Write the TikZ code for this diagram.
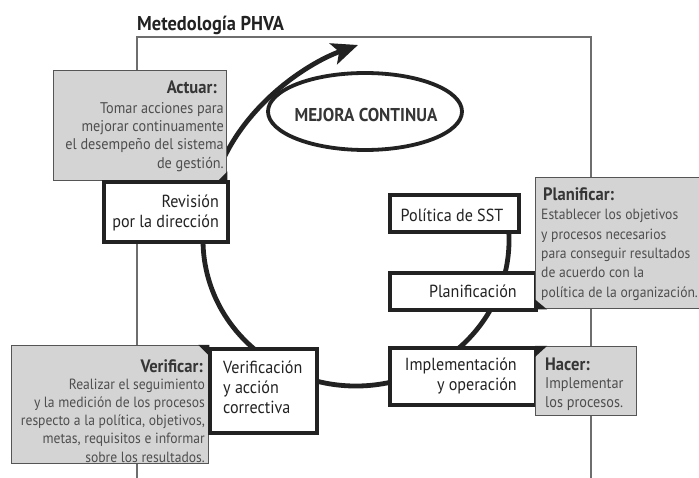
\documentclass[tikz,border=0pt]{standalone}
\usepackage{fontspec}
\setmainfont{PT Sans}[FakeStretch=0.92]
\usetikzlibrary{arrows.meta,shapes.geometric}
\definecolor{ink}{HTML}{222222}
\definecolor{gfill}{HTML}{D4D4D4}
\definecolor{gline}{HTML}{555555}
\definecolor{headc}{HTML}{363636}
\definecolor{bodyc}{HTML}{4E4E4E}
\definecolor{framec}{HTML}{6E6E6E}
\newcommand\tp{\rule{0pt}{1em}}
\begin{document}
\begin{tikzpicture}[x=1pt,y=-1pt,
  wbox/.style={draw=ink, line width=3.6pt, fill=white, inner sep=0pt, anchor=north west},
  gbox/.style={draw=gline, line width=1.4pt, fill=gfill, inner sep=0pt, anchor=north west},
  ghead/.style={font=\fontsize{18}{20}\selectfont\bfseries, text=headc, inner sep=0pt},
  gbody/.style={font=\fontsize{15.5}{18.4}\selectfont, text=bodyc, inner sep=0pt},
  wtext/.style={font=\fontsize{17.5}{20}\selectfont, text=ink, inner sep=0pt},
  ttext/.style={font=\fontsize{20}{24}\selectfont\bfseries, text=ink, inner sep=0pt},
  mtext/.style={font=\fontsize{18.6}{20}\selectfont\bfseries, text=headc, inner sep=0pt},
  frame/.style={draw=framec, line width=1.3pt},
  cyc/.style={draw=ink, line width=4.8pt},
  mejell/.style={draw=ink, line width=3.8pt, ellipse, minimum width=194pt, minimum height=77pt, inner sep=0pt},
  cornertri/.style={fill=ink}
]
\useasboundingbox[fill=white] (0,0) rectangle (699,478);
% frame
\coordinate (fTL) at (137,37);
\coordinate (fTR) at (591,37);
\coordinate (fBL) at (137,478);
\coordinate (fBR) at (591,478);
\draw[frame] (fBL) -- (fTL) -- (fTR) -- (fBR);
% title
\node[ttext, anchor=north west] (ttl) at (137,10) {\tp Metedología PHVA};
% mejora continua
\node[mejell] (mejE) at (365,111.5) {};
\node[mtext, anchor=north] (mejT) at (366,103) {\tp MEJORA CONTINUA};
% cycle
\coordinate (cc) at (356,240);
\coordinate (tipA) at (358,45);
\draw[cyc, -{Stealth[length=26pt, width=22pt, inset=6pt]}] (cc) ++(-10:153 and 146)
  arc[start angle=-10, end angle=200, x radius=153, y radius=146]
  .. controls (232,112) and (305,64) .. (tipA);
% boxes
\node[gbox, minimum width=173pt, minimum height=110pt] (actB) at (53,70) {};
\node[wbox, minimum width=124pt, minimum height=60pt] (revB) at (102,180) {};
\node[gbox, minimum width=197pt, minimum height=118pt] (verB) at (11,345) {};
\node[wbox, minimum width=107pt, minimum height=84pt] (vacB) at (208,347) {};
\node[wbox, minimum width=129pt, minimum height=37pt] (polB) at (388,193) {};
\node[wbox, minimum width=146pt, minimum height=37pt] (plaB) at (388,271) {};
\node[wbox, minimum width=146pt, minimum height=57pt] (impB) at (388,346) {};
\node[gbox, minimum width=170pt, minimum height=131pt] (pnfB) at (535,177) {};
\node[gbox, minimum width=101pt, minimum height=69pt] (hacB) at (535,346) {};
% corner triangles
\fill[cornertri] (actB.south east) -- ++(-10,0) -- ++(10,-10) -- cycle;
\fill[cornertri] (verB.north east) -- ++(-11,0) -- ++(11,11) -- cycle;
\fill[cornertri] (pnfB.south west) -- ++(0,-10) -- ++(12,10) -- cycle;
\fill[cornertri] (hacB.north west) -- ++(12,0) -- ++(-12,11) -- cycle;
% texts
\node[ghead, anchor=north east] (actH) at (217,75) {\tp Actuar:};
\node[gbody, anchor=north east, align=right] (actT) at (224,97.5) {\tp Tomar acciones para\\mejorar continuamente\\el desempeño del sistema\\de gestión.};
\node[wtext, anchor=north east, align=right] (revT) at (219,189.5) {\tp Revisión\\por la dirección};
\node[ghead, anchor=north east] (verH) at (203,354) {\tp Verificar:};
\node[gbody, anchor=north east, align=right, font=\fontsize{14.8}{18.25}\selectfont] (verT) at (205,374) {\tp Realizar el seguimiento\\y la medición de los procesos\\respecto a la política, objetivos,\\metas, requisitos e informar\\sobre los resultados.};
\node[wtext, anchor=north west, align=left] (vacT) at (223,355.5) {\tp Verificación\\y acción\\correctiva};
\node[wtext, anchor=north] (polT) at (452,203.5) {\tp Política de SST};
\node[wtext, anchor=north east] (plaT) at (517,279.5) {\tp Planificación};
\node[wtext, anchor=north east, align=right] (impT) at (517,352.5) {\tp Implementación\\y operación};
\node[ghead, anchor=north west] (pnfH) at (543,182) {\tp Planificar:};
\node[gbody, anchor=north west, align=left, font=\fontsize{14.8}{19.3}\selectfont] (pnfT) at (541,205) {\tp Establecer los objetivos\\y procesos necesarios\\para conseguir resultados\\de acuerdo con la\\política de la organización.};
\node[ghead, anchor=north west] (hacH) at (545,352) {\tp Hacer:};
\node[gbody, anchor=north west, align=left, font=\fontsize{15.5}{19}\selectfont] (hacT) at (545,372.5) {\tp Implementar\\los procesos.};
\end{tikzpicture}
\end{document}
